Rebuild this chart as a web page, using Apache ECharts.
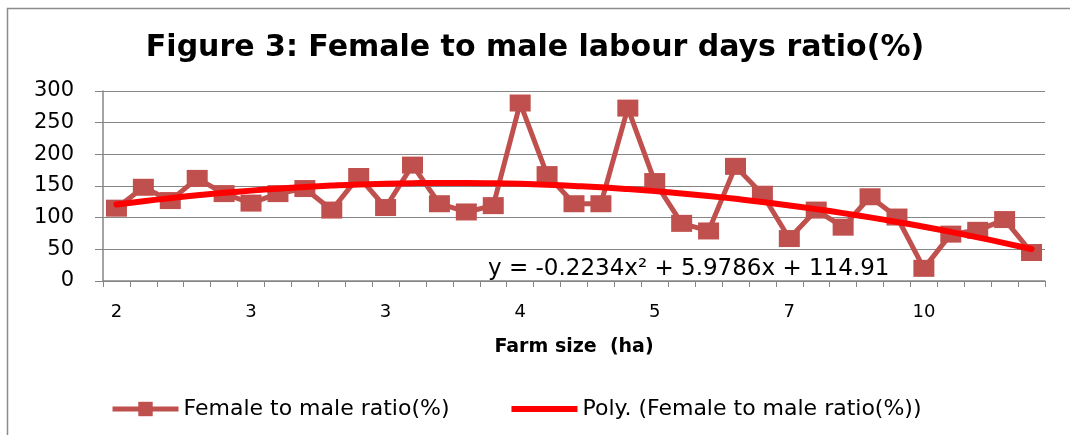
<!DOCTYPE html>
<html>
<head>
<meta charset="utf-8">
<script src="https://cdn.jsdelivr.net/npm/echarts@6/dist/echarts.min.js"></script>
<style>
html,body{margin:0;padding:0;background:#fff;}
#c{width:1070px;height:435px;}
</style>
</head>
<body>
<div id="c"></div>
<script>
// Farm size categories (only every fifth label is shown in the figure)
const farmSize = ["2","2","2","2","3","3","3","3","3","3","3","3","3","3","4","4","4","4","4","5","5","5","5","6","6","7","7","8","8","9","10","10","11","12","13"];
// Female to male labour days ratio (%)
const ratio = [115,148,127,162,138,123,138,146,112,165,116,183,122,109,119,281,168,122,122,273,157,91,79,181,137,67,112,85,133,101,20,74,80,97,45];
// Polynomial trend values
const polyTrend = [120.7,126.0,130.8,135.3,139.2,142.7,145.8,148.4,150.6,152.4,153.6,154.5,154.9,154.8,154.3,153.4,152.0,150.1,147.9,145.1,141.9,138.3,134.2,129.7,124.8,119.3,113.5,107.2,100.4,93.2,85.6,77.5,68.9,59.9,50.5];
const yTicks = [0,50,100,150,200,250,300];
const titleText = "Figure 3: Female to male labour days ratio(%)";
const xName = "Farm size  (ha)";
const seriesName = "Female to male ratio(%)";
const trendName = "Poly. (Female to male ratio(%))";
const equation = "y = -0.2234x\u00B2 + 5.9786x + 114.91";

const chart = echarts.init(document.getElementById('c'), null, {renderer:'canvas'});
chart.setOption({
  animation:false,
  backgroundColor:'#ffffff',
  title:{
    text:titleText, left:'center', top:28,
    textStyle:{fontFamily:'DejaVu Sans', fontWeight:'bold', fontSize:30, color:'#000'}
  },
  grid:{left:103, right:25, top:91, bottom:154, containLabel:false},
  xAxis:{
    type:'category', data:farmSize, boundaryGap:true,
    name:xName, nameLocation:'middle', nameGap:57,
    nameTextStyle:{fontFamily:'DejaVu Sans', fontWeight:'bold', fontSize:19, color:'#000'},
    axisLine:{lineStyle:{color:'#868686', width:1.5}},
    axisTick:{show:true, interval:0, alignWithLabel:false, length:6, lineStyle:{color:'#868686'}},
    axisLabel:{interval:4, margin:22, fontFamily:'DejaVu Sans', fontSize:18, color:'#000'},
    splitLine:{show:false}
  },
  yAxis:{
    type:'value', min:yTicks[0], max:yTicks[yTicks.length-1], interval:50,
    axisLine:{show:true, lineStyle:{color:'#868686', width:1.5}},
    axisTick:{show:true, length:8, lineStyle:{color:'#868686'}},
    axisLabel:{margin:29, fontFamily:'DejaVu Sans', fontSize:21, color:'#000'},
    splitLine:{show:true, lineStyle:{color:'#868686', width:1.2}}
  },
  legend:{
    bottom:10, left:105, itemGap:62, itemWidth:66, itemHeight:18,
    lineStyle:{width:5},
    textStyle:{fontFamily:'DejaVu Sans', fontSize:22, color:'#000'},
    data:[{name:seriesName}, {name:trendName, icon:'path://M0,0L66,0L66,6L0,6Z'}]
  },
  series:[
    {
      name:seriesName, type:'line', data:ratio, z:2,
      symbol:'rect', symbolSize:[21,17], showSymbol:true,
      lineStyle:{color:'#C0504D', width:5},
      itemStyle:{color:'#C0504D'}
    },
    {
      name:trendName, type:'line', data:polyTrend, smooth:true, z:3,
      showSymbol:false, symbol:'none',
      lineStyle:{color:'#FF0000', width:6, cap:'round'},
      itemStyle:{color:'#FF0000'}
    }
  ],
  graphic:[
    {type:'rect', shape:{x:7.5, y:8.5, width:1200, height:1000}, style:{fill:'none', stroke:'#8c8c8c', lineWidth:1.5}, silent:true},
    {type:'text', left:488, top:258, style:{text:equation, fontFamily:'DejaVu Sans', fontSize:23, fill:'#000'}, z:10}
  ]
});
</script>
</body>
</html>
